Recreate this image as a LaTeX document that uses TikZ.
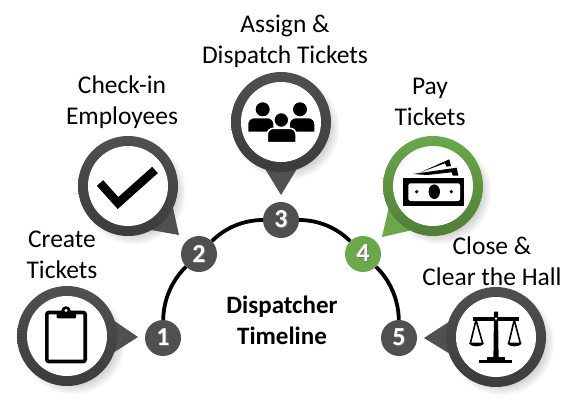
\documentclass[tikz,border=0pt]{standalone}
\usepackage{fontspec}
\setmainfont{Carlito}
\usetikzlibrary{calc}
\definecolor{ringgrey}{HTML}{505050}
\definecolor{ringgreen}{HTML}{6AA84A}
\newcommand{\shadednum}[1]{\rlap{\kern1pt\raisebox{-1pt}{\color{black!55}#1}}#1}
\tikzset{
  stepnode/.style={circle, fill=#1, minimum size=36pt, inner sep=0pt, text=white, font=\fontsize{26}{26}\selectfont\bfseries},
  stepnode/.default=ringgrey,
  caption/.style={align=center, font=\fontsize{25.5}{31}\selectfont},
  timeline/.style={line width=3.8pt, bend left=22.5, looseness=0.885},
}
\begin{document}
\begin{tikzpicture}[x=1pt, y=-1pt]
  \useasboundingbox (0,0) rectangle (588,405);

  % Bubble centres and tips
  \coordinate (b1) at (67,336);   \coordinate (t1) at (138,337);
  \coordinate (b2) at (128,186);  \coordinate (t2) at (179,235);
  \coordinate (b3) at (281,122);  \coordinate (t3) at (281,195);
  \coordinate (b4) at (433,186);  \coordinate (t4) at (382,237);
  \coordinate (b5) at (496,337);  \coordinate (t5) at (424,338);

  % Bubbles
  \foreach \i/\col in {1/ringgrey, 2/ringgrey, 3/ringgrey, 4/ringgreen, 5/ringgrey} {
    \foreach \r in {36,38,...,52}
      \fill[black, opacity=0.035] ($(b\i)+(6,6)$) circle (\r pt);
    \fill[\col] (t\i) -- ($(b\i)!50pt!18:(t\i)$) -- (b\i) -- ($(b\i)!50pt!-18:(t\i)$) -- cycle;
    \shade[shading angle=45, top color=\col, middle color=\col, bottom color=\col!75!black] (b\i) circle (50pt);
    \fill[white] (b\i) circle (40pt);
  }

  % Step circles
  \node[stepnode] (n1) at (163,338) {\shadednum{1}};
  \node[stepnode] (n2) at (199,254) {\shadednum{2}};
  \node[stepnode] (n3) at (281,220) {\shadednum{3}};
  \node[stepnode=ringgreen] (n4) at (363,254) {\shadednum{4}};
  \node[stepnode] (n5) at (399,338) {\shadednum{5}};

  % Timeline arc
  \draw[timeline] (n1) to (n2);
  \draw[timeline] (n2) to (n3);
  \draw[timeline] (n3) to (n4);
  \draw[timeline] (n4) to (n5);

  % Clipboard
  \draw[line width=3.6pt, rounded corners=2pt] (46.8,312.5) rectangle (85.2,361.5);
  \fill[rounded corners=1pt] (56.7,312) rectangle (76,318.3);
  \fill (66,311) circle (4.8pt);
  \fill[white] (66,310.5) circle (1.7pt);

  % Check mark
  \draw[line width=8.5pt] (100,183) -- (118,203) -- (155,170);

  % People
  \fill (248.3,131.7) [rounded corners=6pt] -- (248.3,118.3) -- (273.3,118.3) [sharp corners] -- (273.3,131.7) -- cycle;
  \fill (290,131.7) [rounded corners=6pt] -- (290,118.3) -- (314.3,118.3) [sharp corners] -- (314.3,131.7) -- cycle;
  \fill (262.7,109.3) circle (7pt);
  \fill (300,109.3) circle (7pt);
  \filldraw[draw=white, line width=1.5pt] (267.3,142.7) [rounded corners=6pt] -- (267.3,128.3) -- (296,128.3) [sharp corners] -- (296,142.7) -- cycle;
  \filldraw[draw=white, line width=1.2pt] (281.3,120) circle (7.4pt);

  % Bank note
  \fill (403.3,177.7) rectangle (464.3,205.7);
  \fill[white] (410,183.3) -- (458.3,183.3) -- (460,185) -- (460,199.3) -- (458.3,201) -- (410,201) -- (408.3,199.3) -- (408.3,185) -- cycle;
  \fill (434.3,191.7) ellipse (5.7pt and 7.3pt);
  \fill (416.7,191.7) circle (1.8pt);
  \fill (451.3,191.7) circle (1.8pt);
  \fill (412.7,174) -- (456.7,167.7) -- (458.3,175.7) -- (452.7,175.7) -- (451.7,172.3) -- (427.3,175) -- cycle;
  \fill (420,172.5) -- (449.3,159.3) -- (451,166) -- (446.7,166.7) -- (445,163.3) -- cycle;

  % Scales
  \fill (494,311.7) -- (498,311.7) -- (498.6,358.3) -- (493.4,358.3) -- cycle;
  \fill (473.3,316.7) rectangle (519,320.5);
  \fill[white] (496,318.6) circle (1.2pt);
  \fill (487.3,357.3) rectangle (504.7,360);
  \fill (479.3,360) rectangle (512.3,363.3);
  \draw[line width=1.6pt] (470.5,342.7) -- (476,320) -- (482.5,342.7);
  \draw[line width=1.6pt] (508.8,342.7) -- (514.3,320) -- (520.2,342.7);
  \fill (469,342.7) -- (484,342.7) .. controls (483,347.5) and (470,347.5) .. (469,342.7);
  \fill (507.3,342.7) -- (521.7,342.7) .. controls (520.7,347.5) and (508.3,347.5) .. (507.3,342.7);

  % Captions
  \node[caption] (create) at (62,255) {Create\\Tickets};
  \node[caption] (checkin) at (122,102) {Check-in\\Employees};
  \node[caption] (assign) at (285,41) {Assign \&\\Dispatch Tickets};
  \node[caption] (pay) at (430,102) {Pay\\Tickets};
  \node[caption] (close) at (492,261) {Close \&\\Clear the Hall};
  \node[caption, font=\fontsize{25}{31}\selectfont\bfseries] (title) at (282,320) {Dispatcher\\Timeline};
\end{tikzpicture}
\end{document}
